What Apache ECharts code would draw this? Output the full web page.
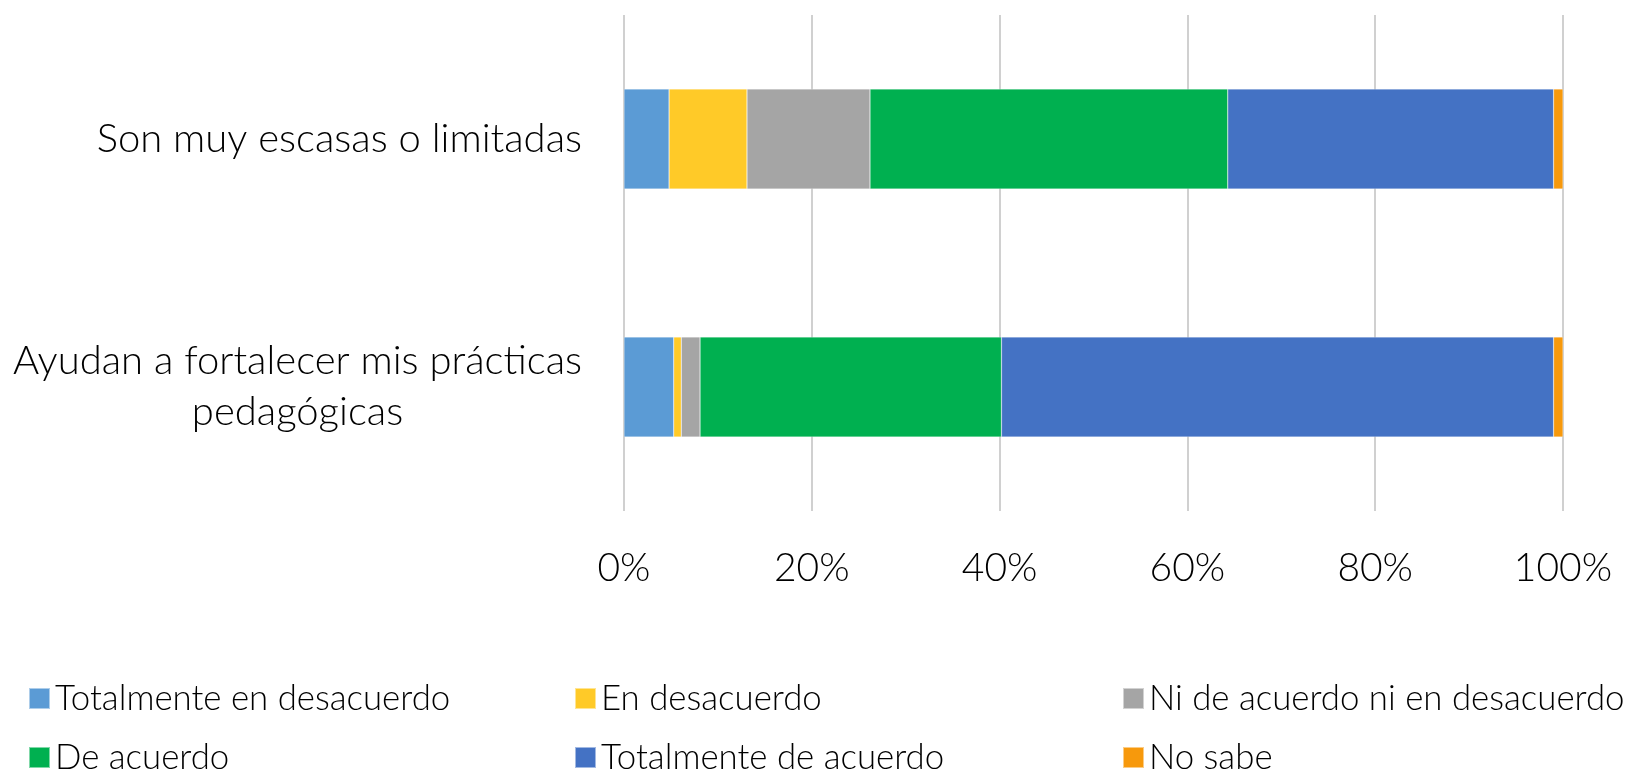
<!DOCTYPE html>
<html><head><meta charset="utf-8">
<script src="https://cdn.jsdelivr.net/npm/echarts@6/dist/echarts.min.js"></script>
<style>html,body{margin:0;padding:0;background:#fff}#c{width:1629px;height:772px}</style>
</head><body><div id="c"></div>
<script>
const categories = ['Son muy escasas o limitadas', 'Ayudan a fortalecer mis prácticas pedagógicas'];
const seriesNames = ['Totalmente en desacuerdo', 'En desacuerdo', 'Ni de acuerdo ni en desacuerdo', 'De acuerdo', 'Totalmente de acuerdo', 'No sabe'];
const totalmenteDesacuerdo = [4.8, 5.3];
const enDesacuerdo = [8.3, 0.8];
const niNi = [13.1, 2.0];
const deAcuerdo = [38.1, 32.1];
const totalmenteAcuerdo = [34.7, 58.8];
const noSabe = [1.0, 1.0];
const xTicks = [0, 20, 40, 60, 80, 100];
const colors = ['#5B9BD5', '#FFCA28', '#A5A5A5', '#00B050', '#4472C4', '#F7990C'];
const values = [totalmenteDesacuerdo, enDesacuerdo, niNi, deAcuerdo, totalmenteAcuerdo, noSabe];

const FONT = 'Lato';
const WEIGHT = 300;
const chart = echarts.init(document.getElementById('c'));
const legendLefts = [28, 574, 1122];
const legendTops = [681, 740];
const legends = seriesNames.map((n, i) => ({
  left: legendLefts[i % 3], top: legendTops[Math.floor(i / 3)],
  orient: 'horizontal', itemWidth: 21, itemHeight: 21, itemGap: 10,
  icon: 'rect', selectedMode: false, padding: 0,
  textStyle: {fontFamily: FONT, fontWeight: WEIGHT, fontSize: 34.8, color: '#000'},
  data: [n]
}));
chart.setOption({
  animation: false,
  color: colors,
  grid: {left: 624, right: 66, top: 15, bottom: 261},
  legend: legends,
  xAxis: {
    type: 'value', min: 0, max: 100, interval: 20,
    axisLine: {show: false}, axisTick: {show: false},
    splitLine: {lineStyle: {color: '#d0d0d0', width: 2}},
    axisLabel: {formatter: v => xTicks.includes(v) ? v + '%' : '', fontFamily: FONT, fontWeight: WEIGHT, fontSize: 39, color: '#000', margin: 38}
  },
  yAxis: {
    type: 'category', inverse: true, data: categories,
    axisLine: {show: false}, axisTick: {show: false},
    axisLabel: {
      margin: 42, fontFamily: FONT, fontWeight: WEIGHT, fontSize: 40, color: '#000', lineHeight: 51,
      formatter: function (v) {
        if (v.indexOf('Ayudan') === 0) return '{c|Ayudan a fortalecer mis prácticas}\n{c|pedagógicas}';
        return '{c|' + v + '}';
      },
      rich: {c: {align: 'center', fontFamily: FONT, fontWeight: WEIGHT, fontSize: 40, color: '#000', lineHeight: 51}}
    }
  },
  series: seriesNames.map((n, i) => ({
    name: n, type: 'bar', stack: 'total', barWidth: 100,
    itemStyle: {color: colors[i], borderColor: 'rgba(255,255,255,0.5)', borderWidth: 0.5},
    data: values[i]
  }))
});
</script></body></html>
